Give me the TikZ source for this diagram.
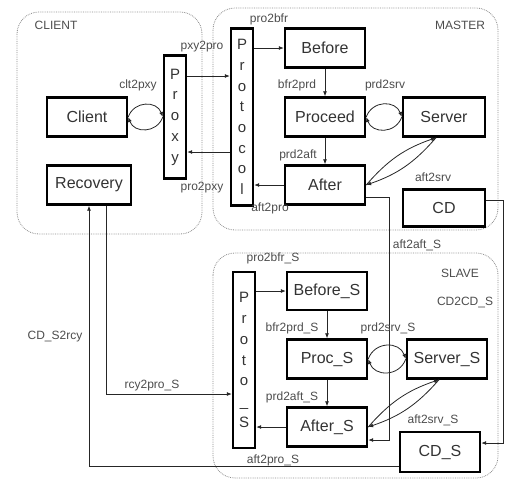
\documentclass[tikz,border=0pt]{standalone}
\usepackage{fontspec}
\setmainfont{Liberation Sans}
\usetikzlibrary{arrows.meta}

\tikzset{
  box/.style={draw, line width=2.4pt, minimum width=80pt, minimum height=39pt, inner sep=0pt,
    text=black!80, font=\fontsize{16}{19}\selectfont},
  vbox/.style={draw, line width=2.4pt, minimum width=22pt, inner sep=0pt, align=center,
    text=black!80, font=\fontsize{15}{20.7}\selectfont},
  lbl/.style={inner sep=0pt, text=black!70, font=\fontsize{12}{14}\selectfont},
  zone/.style={draw=black!45, densely dotted, line width=0.8pt, rounded corners=22pt},
  arr/.style={-{Latex[length=5pt,width=4pt]}, line width=0.8pt, draw=black!85},
  eye/.style={bend left=70, looseness=1.3},
}

\begin{document}
\begin{tikzpicture}[x=1pt,y=-1pt]
\useasboundingbox (0,0) rectangle (510,479);

% ===== Containers =====
\draw[zone] (17,12) rectangle (202,234);
\draw[zone] (213,8) rectangle (498,230);
\draw[zone] (213,253) rectangle (498,478);
\node[lbl] (zclient) at (56,25) {CLIENT};
\node[lbl] (zmaster) at (460,25) {MASTER};
\node[lbl] (zslave) at (460,273) {SLAVE};

% ===== Client side =====
\node[box] (clt) at (87,117) {Client};
\node[box, minimum width=84pt] (rcy) at (89,185) {Recovery};
\node[vbox, minimum height=123pt] (pxy) at (175,117) {P\\r\\o\\x\\y};

% ===== Master =====
\node[vbox, minimum height=177pt] (pro) at (242,117) {P\\r\\o\\t\\o\\c\\o\\l};
\node[box] (bfr) at (325,48) {Before};
\node[box] (prd) at (325,117) {Proceed};
\node[box, minimum width=82pt] (srv) at (444,117) {Server};
\node[box] (aft) at (325,185) {After};
\node[box, minimum width=82pt, minimum height=37pt] (cd) at (444,208) {CD};

% ===== Slave =====
\node[vbox, minimum height=176pt] (pros) at (244,360) {P\\r\\o\\t\\o\\\_\\S};
\node[box, minimum height=38pt] (bfrs) at (327,291) {Before\_S};
\node[box] (prcs) at (327,359) {Proc\_S};
\node[box] (srvs) at (447,359) {Server\_S};
\node[box] (afts) at (327,427) {After\_S};
\node[box, minimum height=40pt] (cds) at (440,452) {CD\_S};

% ===== Connectors =====
\draw[arr] (clt.east) to[eye] (pxy.west);
\draw[arr] (pxy.west) to[eye] (clt.east);
\draw[arr] ([yshift=41pt]pxy.east) -- ([yshift=41pt]pro.west);
\draw[arr] ([yshift=-35pt]pro.west) -- ([yshift=-35pt]pxy.east);

\draw[arr] (pro.east |- bfr.west) -- (bfr.west);
\draw[arr] (bfr.south) -- (prd.north);
\draw[arr] (prd.east) to[eye] (srv.west);
\draw[arr] (srv.west) to[eye] (prd.east);
\draw[arr] (prd.south) -- (aft.north);
\draw[arr] (aft.west) -- (aft.west -| pro.east);
\draw[arr] (aft.east) to[bend left=15] ([xshift=-8pt]srv.south);
\draw[arr] ([xshift=-8pt]srv.south) to[bend left=15] (aft.east);

\draw[arr] (pros.east |- bfrs.west) -- (bfrs.west);
\draw[arr] (bfrs.south) -- (prcs.north);
\draw[arr] (prcs.east) to[eye] (srvs.west);
\draw[arr] (srvs.west) to[eye] (prcs.east);
\draw[arr] (prcs.south) -- (afts.north);
\draw[arr] (afts.west) -- (afts.west -| pros.east);
\draw[arr] (afts.east) to[bend left=15] ([xshift=-8pt]srvs.south);
\draw[arr] ([xshift=-8pt]srvs.south) to[bend left=15] (afts.east);

% ===== Master -> Slave, Recovery =====
\coordinate (a2a) at (389,440);
\coordinate (c2c) at (503,443);
\coordinate (r2p) at (106,394);
\draw[arr] ([yshift=-12pt]aft.east) -| (a2a) -- ([yshift=-13pt]afts.east);
\draw[arr] ([yshift=8pt]cd.east) -| (c2c) -- ([yshift=9pt]cds.east);
\draw[arr] ([xshift=17pt]rcy.south) |- (r2p) -- ([yshift=-34pt]pros.west);
\draw[arr] ([yshift=-14pt]cds.west) -| (rcy.south);

% ===== Labels =====
\node[lbl] (lclt2pxy) at (138,85) {clt2pxy};
\node[lbl] (lpxy2pro) at (202,47) {pxy2pro};
\node[lbl] (lpro2pxy) at (202,188) {pro2pxy};
\node[lbl] (lpro2bfr) at (269,19) {pro2bfr};
\node[lbl] (lbfr2prd) at (297,85) {bfr2prd};
\node[lbl] (lprd2srv) at (385,85) {prd2srv};
\node[lbl] (lprd2aft) at (298,155) {prd2aft};
\node[lbl] (laft2pro) at (270,208) {aft2pro};
\node[lbl] (laft2srv) at (433,177) {aft2srv};
\node[lbl] (laft2afts) at (417,245) {aft2aft\_S};
\node[lbl] (lcd2cds) at (465,302) {CD2CD\_S};
\node[lbl] (lrcy2pros) at (152,386) {rcy2pro\_S};
\node[lbl] (lcds2rcy) at (55,337) {CD\_S2rcy};
\node[lbl] (lpro2bfrs) at (273,258) {pro2bfr\_S};
\node[lbl] (lbfr2prds) at (292,328) {bfr2prd\_S};
\node[lbl] (lprd2srvs) at (388,328) {prd2srv\_S};
\node[lbl] (lprd2afts) at (292,397) {prd2aft\_S};
\node[lbl] (laft2pros) at (273,460) {aft2pro\_S};
\node[lbl] (laft2srvs) at (433,420) {aft2srv\_S};

\end{tikzpicture}
\end{document}
